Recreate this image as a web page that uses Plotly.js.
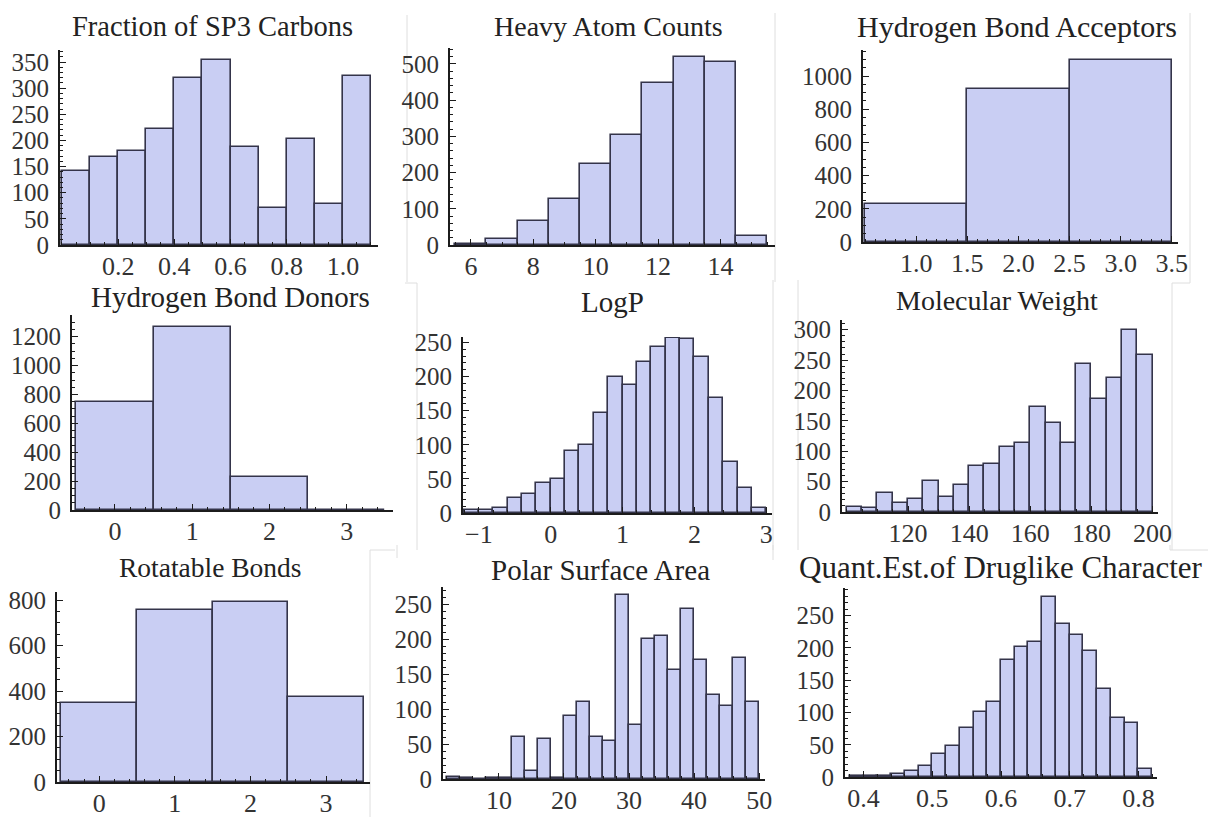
<!DOCTYPE html>
<html>
<head>
<meta charset="utf-8">
<script src="https://cdn.plot.ly/plotly-3.0.1.min.js"></script>
<style>
html,body{margin:0;padding:0;background:#fff}
#chart{width:1208px;height:817px}
</style>
</head>
<body>
<div id="chart"></div>
<script>
// ---------------- data ----------------
const sp3Bins = [0.05, 0.15, 0.25, 0.35, 0.45, 0.55, 0.65, 0.75, 0.85, 0.95, 1.05];
const sp3Counts = [141, 168, 180, 222, 319, 354, 188, 70, 203, 78, 324];
const sp3Ticks = [0.2, 0.4, 0.6, 0.8, 1.0];

const heavyBins = [6, 7, 8, 9, 10, 11, 12, 13, 14, 15];
const heavyCounts = [4, 17, 65, 127, 224, 303, 447, 520, 505, 24];
const heavyTicks = [6, 8, 10, 12, 14];

const hbaBins = [1, 2, 3];
const hbaCounts = [232, 925, 1097];
const hbaTicks = [1.0, 1.5, 2.0, 2.5, 3.0, 3.5];

const hbdBins = [0, 1, 2, 3];
const hbdCounts = [745, 1270, 228, 3];
const hbdTicks = [0, 1, 2, 3];

const logpBins = [-1.1, -0.9, -0.7, -0.5, -0.3, -0.1, 0.1, 0.3, 0.5, 0.7, 0.9, 1.1, 1.3, 1.5, 1.7, 1.9, 2.1, 2.3, 2.5, 2.7, 2.9];
const logpCounts = [5, 5, 8, 22, 28, 44, 50, 91, 100, 146, 200, 188, 221, 243, 257, 255, 228, 169, 75, 36, 8];
const logpTicks = [-1, 0, 1, 2, 3];

const mwBins = [102.5, 107.5, 112.5, 117.5, 122.5, 127.5, 132.5, 137.5, 142.5, 147.5, 152.5, 157.5, 162.5, 167.5, 172.5, 177.5, 182.5, 187.5, 192.5, 197.5];
const mwCounts = [9, 7, 32, 14, 21, 51, 24, 45, 75, 79, 107, 114, 172, 147, 114, 244, 186, 221, 300, 258];
const mwTicks = [120, 140, 160, 180, 200];

const rotBins = [0, 1, 2, 3];
const rotCounts = [346, 755, 790, 372];
const rotTicks = [0, 1, 2, 3];

const psaBins = [3, 5, 7, 9, 11, 13, 15, 17, 19, 21, 23, 25, 27, 29, 31, 33, 35, 37, 39, 41, 43, 45, 47, 49];
const psaCounts = [3, 1, 0, 2, 1, 60, 12, 57, 2, 90, 111, 60, 54, 263, 78, 200, 205, 156, 244, 170, 120, 104, 173, 111];
const psaTicks = [10, 20, 30, 40, 50];

const qedBins = [0.39, 0.41, 0.43, 0.45, 0.47, 0.49, 0.51, 0.53, 0.55, 0.57, 0.59, 0.61, 0.63, 0.65, 0.67, 0.69, 0.71, 0.73, 0.75, 0.77, 0.79, 0.81];
const qedCounts = [2, 2, 2, 5, 9, 17, 35, 48, 76, 101, 116, 181, 202, 209, 279, 237, 220, 195, 136, 91, 83, 12];
const qedTicks = [0.4, 0.5, 0.6, 0.7, 0.8];

const titles = ['Fraction of SP3 Carbons', 'Heavy Atom Counts', 'Hydrogen Bond Acceptors',
  'Hydrogen Bond Donors', 'LogP', 'Molecular Weight',
  'Rotatable Bonds', 'Polar Surface Area', 'Quant.Est.of Druglike Character'];

// ---------------- layout config ----------------
const W = 1208, H = 817;
const px = x => x / W;
const py = y => 1 - y / H;

const panels = [
  {bins: sp3Bins, counts: sp3Counts, ticks: sp3Ticks, fmt: '.1f', bw: 0.1, box: [60, 378, 50, 245], xr: [-0.007, 1.125], yr: [0, 373], xm: 0.05, yd: 50, ym: 10, t: [212, 27], ts: 28.5},
  {bins: heavyBins, counts: heavyCounts, ticks: heavyTicks, fmt: '', bw: 1, box: [450, 775, 48, 245], xr: [5.33, 15.75], yr: [0, 544], xm: 0.5, yd: 100, ym: 20, t: [608, 27], ts: 28},
  {bins: hbaBins, counts: hbaCounts, ticks: hbaTicks, fmt: '.1f', bw: 1, box: [863, 1178, 50, 242], xr: [0.48, 3.56], yr: [0, 1157], xm: 0.1, yd: 200, ym: 50, t: [1017, 27], ts: 30},
  {bins: hbdBins, counts: hbdCounts, ticks: hbdTicks, fmt: '', bw: 1, box: [72, 393, 315, 510], xr: [-0.556, 3.6], yr: [0, 1350], xm: 0.2, yd: 200, ym: 50, t: [230, 297], ts: 29},
  {bins: logpBins, counts: logpCounts, ticks: logpTicks, fmt: '', bw: 0.2, box: [463, 772, 337, 513], xr: [-1.22, 3.08], yr: [0, 258], xm: 0.2, yd: 50, ym: 10, t: [612, 302], ts: 29},
  {bins: mwBins, counts: mwCounts, ticks: mwTicks, fmt: '', bw: 5, box: [842, 1158, 320, 512], xr: [98.4, 201.8], yr: [0, 316], xm: 5, yd: 50, ym: 10, t: [997, 300], ts: 28},
  {bins: rotBins, counts: rotCounts, ticks: rotTicks, fmt: '', bw: 1, box: [57, 370, 592, 782], xr: [-0.557, 3.58], yr: [0, 836], xm: 0.2, yd: 200, ym: 50, t: [210, 567], ts: 27.5},
  {bins: psaBins, counts: psaCounts, ticks: psaTicks, fmt: '', bw: 2, box: [443, 765, 587, 779], xr: [1.4, 50.9], yr: [0, 275], xm: 2, yd: 50, ym: 10, t: [600, 570], ts: 29},
  {bins: qedBins, counts: qedCounts, ticks: qedTicks, fmt: '.1f', bw: 0.02, box: [845, 1157, 588, 777], xr: [0.373, 0.827], yr: [0, 293], xm: 0.02, yd: 50, ym: 10, t: [797, 567], ts: 31, left: true}
];

const FONT = 'Liberation Serif';
const AXC = '#1c1c1c';
const traces = [];
const layout = {
  width: W, height: H,
  margin: {l: 0, r: 0, t: 0, b: 0},
  paper_bgcolor: '#ffffff', plot_bgcolor: 'rgba(0,0,0,0)',
  showlegend: false,
  bargap: 0,
  annotations: [],
  shapes: []
};

panels.forEach((p, i) => {
  const n = i === 0 ? '' : String(i + 1);
  traces.push({
    type: 'bar',
    x: p.bins, y: p.counts, width: p.bw,
    xaxis: 'x' + n, yaxis: 'y' + n,
    marker: {color: 'rgb(201,206,243)', line: {color: '#34344a', width: 1.6}},
    hoverinfo: 'skip'
  });
  const [x0, x1, y0, y1] = p.box;
  const xa = {
    domain: [px(x0), px(x1)], range: p.xr, anchor: 'y' + n,
    showgrid: false, zeroline: false,
    showline: true, linecolor: AXC, linewidth: 2,
    tickmode: 'array', tickvals: p.ticks,
    ticks: 'inside', ticklen: 6, tickwidth: 1.2, tickcolor: AXC,
    ticklabelstandoff: -3,
    tickfont: {family: FONT, size: 26, color: '#333'},
    minor: {tickmode: 'linear', tick0: 0, dtick: p.xm, ticks: 'inside', ticklen: 3, tickwidth: 1, tickcolor: AXC},
    fixedrange: true
  };
  if (p.fmt) xa.tickformat = p.fmt;
  const ya = {
    domain: [py(y1), py(y0)], range: p.yr, anchor: 'x' + n,
    showgrid: false, zeroline: false,
    showline: true, linecolor: AXC, linewidth: 2,
    tickmode: 'linear', tick0: 0, dtick: p.yd,
    ticks: 'inside', ticklen: 6, tickwidth: 1.2, tickcolor: AXC,
    ticklabelstandoff: 4,
    tickfont: {family: FONT, size: 25, color: '#333'},
    minor: {tickmode: 'linear', tick0: 0, dtick: p.ym, ticks: 'inside', ticklen: 3, tickwidth: 1, tickcolor: AXC},
    fixedrange: true
  };
  layout['xaxis' + n] = xa;
  layout['yaxis' + n] = ya;
  layout.annotations.push({
    xref: 'paper', yref: 'paper',
    x: px(p.t[0]), y: py(p.t[1]),
    xanchor: p.left ? 'left' : 'center', yanchor: 'middle',
    text: titles[i], showarrow: false,
    font: {family: FONT, size: p.ts, color: '#222'}
  });
});

// faint borders of the collage pieces
const borderLines = [
  [407, 15, 407, 282], [775, 13, 775, 282],
  [1190, 13, 1190, 283],
  [417, 283, 417, 550], [405, 283, 417, 283], [773, 280, 773, 550],
  [798, 280, 798, 550], [1172, 283, 1172, 550], [1172, 283, 1190, 283],
  [370, 550, 370, 817], [370, 550, 395, 550],
  [397, 545, 397, 558], [773, 545, 773, 560],
  [1170, 545, 1170, 550], [1170, 550, 1208, 550]
];
borderLines.forEach(b => layout.shapes.push({
  type: 'line', xref: 'paper', yref: 'paper', layer: 'below',
  x0: px(b[0]), y0: py(b[1]), x1: px(b[2]), y1: py(b[3]),
  line: {color: '#dedede', width: 1}
}));

Plotly.newPlot('chart', traces, layout, {displayModeBar: false, responsive: false});
</script>
</body>
</html>
